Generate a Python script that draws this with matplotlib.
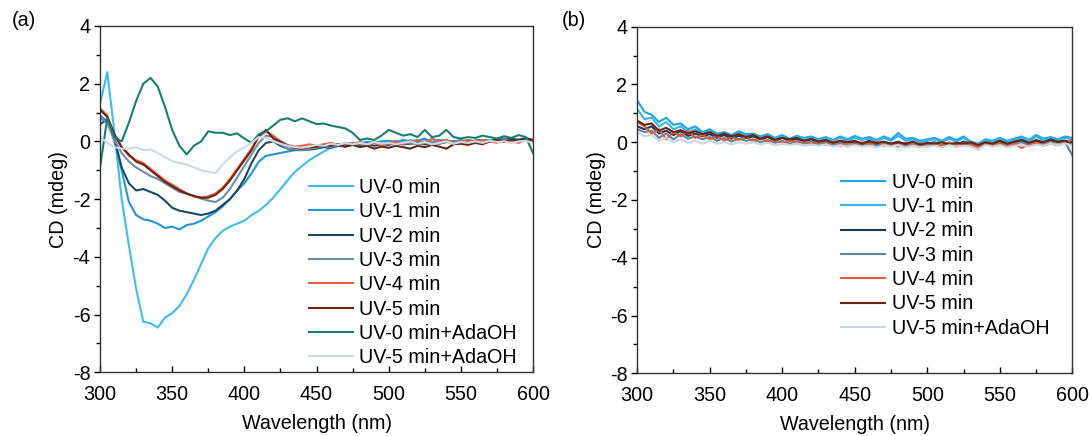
import numpy as np
import matplotlib
matplotlib.use("Agg")
import matplotlib.pyplot as plt
from matplotlib.ticker import MultipleLocator

plt.rcParams['font.family'] = ['Liberation Sans', 'DejaVu Sans']
plt.rcParams['font.size'] = 14.2
plt.rcParams['axes.unicode_minus'] = False

wavelength = np.arange(300, 601, 5)

# ---------------- panel (a) ----------------
a_uv0 = [1.30, 2.40, 0.30, -2.00, -3.60, -5.10, -6.25, -6.30, -6.45, -6.10, -5.95, -5.70, -5.30, -4.80, -4.25, -3.70, -3.35, -3.10, -2.95, -2.85, -2.75, -2.55, -2.40, -2.20, -1.95, -1.65, -1.35, -1.05, -0.85, -0.65, -0.50, -0.35, -0.22, -0.15, -0.10, -0.08, -0.05, -0.02, -0.05, 0.00, -0.02, 0.02, -0.03, 0.05, 0.00, 0.05, -0.02, 0.03, 0.00, 0.02, -0.03, 0.05, 0.00, 0.03, 0.05, 0.00, 0.05, 0.02, 0.08, 0.03, 0.00]
a_uv1 = [0.90, 0.70, 0.00, -1.00, -2.10, -2.55, -2.70, -2.75, -2.85, -3.00, -2.95, -3.05, -2.90, -2.85, -2.75, -2.60, -2.45, -2.25, -2.00, -1.70, -1.45, -1.10, -0.70, -0.50, -0.45, -0.40, -0.35, -0.30, -0.28, -0.25, -0.20, -0.15, -0.12, -0.10, -0.10, -0.05, -0.08, -0.02, -0.05, 0.00, 0.02, -0.02, 0.05, 0.00, 0.03, 0.10, -0.02, 0.05, 0.02, 0.00, 0.05, -0.02, 0.03, 0.05, 0.00, 0.05, 0.10, 0.02, 0.05, 0.10, 0.00]
a_uv2 = [0.60, 0.75, 0.10, -0.90, -1.45, -1.70, -1.65, -1.75, -1.85, -2.05, -2.30, -2.40, -2.45, -2.50, -2.55, -2.50, -2.40, -2.20, -2.00, -1.70, -1.30, -0.75, -0.30, -0.05, 0.00, -0.15, -0.25, -0.30, -0.30, -0.28, -0.25, -0.20, -0.22, -0.15, -0.18, -0.10, -0.12, -0.08, -0.15, -0.10, -0.12, -0.05, -0.10, -0.08, -0.05, -0.10, -0.05, -0.08, -0.02, -0.05, 0.00, -0.05, 0.02, 0.05, 0.00, 0.08, 0.05, 0.10, 0.05, 0.12, 0.05]
a_uv3 = [0.80, 0.65, 0.05, -0.40, -0.70, -0.90, -1.05, -1.20, -1.30, -1.45, -1.60, -1.75, -1.82, -1.88, -1.98, -2.05, -2.10, -1.95, -1.65, -1.25, -0.85, -0.45, -0.05, 0.20, 0.15, -0.10, -0.25, -0.28, -0.30, -0.25, -0.22, -0.15, -0.20, -0.12, -0.15, -0.10, -0.08, -0.12, -0.05, -0.10, -0.08, -0.02, -0.08, -0.05, -0.10, -0.05, -0.02, -0.08, 0.00, -0.05, 0.02, -0.02, 0.00, 0.05, 0.02, 0.00, 0.05, 0.02, 0.00, 0.05, 0.02]
a_uv4 = [1.15, 0.90, 0.20, -0.20, -0.50, -0.65, -0.75, -0.95, -1.15, -1.35, -1.50, -1.65, -1.80, -1.90, -1.95, -1.90, -1.80, -1.60, -1.30, -0.95, -0.60, -0.25, 0.15, 0.35, 0.20, 0.00, -0.12, -0.18, -0.15, -0.10, -0.15, -0.10, -0.05, -0.12, -0.05, -0.08, -0.02, -0.10, -0.05, -0.12, -0.05, 0.00, -0.08, -0.02, 0.05, -0.05, 0.10, 0.00, 0.05, -0.05, 0.00, 0.05, -0.02, 0.05, 0.00, -0.05, 0.05, 0.00, -0.05, 0.05, 0.00]
a_uv5 = [1.10, 0.85, 0.25, -0.20, -0.45, -0.70, -0.80, -1.00, -1.20, -1.40, -1.55, -1.70, -1.80, -1.90, -1.95, -1.95, -1.85, -1.65, -1.35, -1.00, -0.65, -0.30, 0.20, 0.40, 0.10, 0.00, -0.15, -0.22, -0.25, -0.20, -0.18, -0.12, -0.15, -0.10, -0.18, -0.12, -0.20, -0.15, -0.25, -0.18, -0.22, -0.15, -0.20, -0.25, -0.15, -0.20, -0.12, -0.18, -0.25, -0.10, -0.08, -0.12, -0.05, -0.10, 0.00, 0.05, -0.02, 0.05, 0.02, 0.08, 0.05]
a_uv0_ada = [-0.90, 0.80, 0.15, 0.00, 0.65, 1.40, 2.00, 2.20, 1.90, 1.20, 0.40, -0.15, -0.45, -0.15, 0.00, 0.35, 0.30, 0.30, 0.22, 0.28, 0.10, -0.05, 0.25, 0.35, 0.55, 0.75, 0.80, 0.70, 0.80, 0.70, 0.60, 0.62, 0.55, 0.50, 0.45, 0.30, 0.05, 0.10, 0.05, 0.20, 0.40, 0.30, 0.20, 0.25, 0.15, 0.40, 0.15, 0.20, 0.40, 0.15, 0.10, 0.15, 0.12, 0.20, 0.15, 0.10, 0.18, 0.12, 0.22, 0.15, -0.40]
a_uv5_ada = [0.15, -0.05, -0.20, -0.25, -0.25, -0.20, -0.30, -0.28, -0.40, -0.55, -0.68, -0.75, -0.80, -0.90, -1.00, -1.05, -1.10, -0.80, -0.55, -0.35, -0.20, -0.05, 0.15, 0.12, 0.00, -0.08, -0.15, -0.20, -0.22, -0.18, -0.12, -0.15, -0.08, -0.12, -0.05, -0.10, -0.05, -0.10, -0.02, -0.08, -0.05, -0.10, -0.05, 0.00, -0.08, -0.02, -0.10, -0.05, 0.00, -0.08, -0.02, -0.05, 0.00, -0.05, 0.02, -0.02, 0.00, -0.05, 0.00, 0.02, -0.05]

a_labels = ["UV-0 min", "UV-1 min", "UV-2 min", "UV-3 min", "UV-4 min", "UV-5 min",
            "UV-0 min+AdaOH", "UV-5 min+AdaOH"]
a_colors = ["#3DBDF0", "#2196CF", "#1B4A66", "#6A8FAA", "#E8603F", "#6E2412", "#16806F", "#CBDAE4"]

# ---------------- panel (b) ----------------
b_uv0 = [1.45, 1.05, 0.95, 0.70, 0.85, 0.60, 0.65, 0.45, 0.55, 0.35, 0.45, 0.30, 0.35, 0.25, 0.38, 0.28, 0.30, 0.20, 0.28, 0.15, 0.25, 0.12, 0.22, 0.15, 0.20, 0.10, 0.18, 0.08, 0.20, 0.10, 0.22, 0.12, 0.18, 0.08, 0.20, 0.10, 0.32, 0.12, 0.15, 0.05, 0.10, 0.15, 0.05, 0.18, 0.08, 0.20, 0.02, -0.05, 0.10, 0.05, 0.15, 0.05, 0.12, 0.20, 0.08, 0.25, 0.12, 0.18, 0.10, 0.20, 0.15]
b_uv1 = [1.15, 0.80, 0.85, 0.55, 0.70, 0.45, 0.55, 0.35, 0.45, 0.30, 0.38, 0.25, 0.30, 0.20, 0.32, 0.22, 0.25, 0.15, 0.22, 0.10, 0.20, 0.08, 0.18, 0.10, 0.15, 0.05, 0.12, 0.05, 0.15, 0.05, 0.15, 0.08, 0.12, 0.02, 0.15, 0.05, 0.22, 0.05, 0.10, 0.00, 0.05, 0.10, 0.00, 0.12, 0.02, 0.15, -0.02, -0.10, 0.05, 0.00, 0.10, 0.00, 0.05, 0.15, 0.02, 0.20, 0.05, 0.12, 0.05, 0.15, 0.10]
b_uv2 = [0.55, 0.45, 0.55, 0.30, 0.40, 0.25, 0.38, 0.22, 0.30, 0.20, 0.28, 0.15, 0.25, 0.12, 0.22, 0.15, 0.20, 0.10, 0.18, 0.05, 0.15, 0.05, 0.12, 0.02, 0.10, -0.02, 0.05, -0.05, 0.05, -0.05, 0.02, -0.05, 0.05, -0.08, 0.00, -0.05, 0.02, -0.08, 0.00, -0.10, -0.05, 0.00, -0.10, -0.02, -0.08, 0.02, -0.05, -0.15, -0.02, -0.08, 0.00, -0.10, -0.02, 0.05, -0.05, 0.08, -0.02, 0.10, 0.00, 0.05, 0.00]
b_uv3 = [0.45, 0.35, 0.40, 0.15, 0.30, 0.10, 0.28, 0.12, 0.20, 0.10, 0.18, 0.05, 0.15, 0.02, 0.12, 0.05, 0.10, 0.00, 0.08, -0.02, 0.05, -0.05, 0.05, -0.05, 0.02, -0.08, 0.00, -0.10, -0.02, -0.15, -0.05, -0.10, -0.02, -0.12, -0.05, -0.12, -0.02, -0.15, -0.05, -0.12, -0.08, -0.02, -0.12, -0.05, -0.15, -0.05, -0.10, -0.25, -0.05, -0.12, -0.02, -0.10, -0.05, 0.00, -0.10, 0.02, -0.08, 0.05, -0.10, 0.00, -0.45]
b_uv4 = [0.70, 0.55, 0.30, 0.45, 0.10, 0.35, 0.20, 0.40, 0.15, 0.25, 0.10, 0.22, 0.05, 0.18, 0.08, 0.20, 0.02, 0.15, 0.00, 0.10, -0.05, 0.08, -0.05, 0.05, -0.08, 0.02, -0.10, 0.00, -0.12, -0.02, -0.10, 0.00, -0.08, 0.02, -0.12, -0.05, -0.15, -0.02, -0.10, -0.05, -0.15, -0.05, -0.10, 0.00, -0.12, -0.02, -0.08, -0.15, -0.02, -0.10, -0.05, -0.15, -0.05, -0.20, -0.08, -0.02, -0.12, -0.05, -0.10, -0.02, 0.10]
b_uv5 = [0.75, 0.60, 0.65, 0.40, 0.50, 0.35, 0.42, 0.30, 0.38, 0.28, 0.35, 0.22, 0.30, 0.20, 0.28, 0.18, 0.25, 0.12, 0.20, 0.08, 0.15, 0.10, 0.15, 0.05, 0.12, 0.02, 0.08, -0.02, 0.05, 0.00, 0.05, -0.05, 0.03, -0.03, 0.02, -0.05, 0.00, -0.05, 0.02, -0.08, -0.02, -0.05, 0.00, -0.08, -0.02, -0.05, 0.00, -0.10, 0.00, -0.05, 0.05, -0.05, 0.02, 0.08, -0.02, 0.05, 0.00, 0.08, 0.02, 0.05, -0.10]
b_uv5_ada = [0.35, 0.20, 0.25, 0.05, 0.15, 0.00, 0.10, -0.02, 0.05, -0.05, 0.05, -0.05, 0.00, -0.08, 0.00, -0.05, 0.00, -0.08, -0.02, -0.10, -0.05, -0.10, -0.05, -0.12, -0.08, -0.12, -0.08, -0.15, -0.10, -0.15, -0.10, -0.15, -0.12, -0.18, -0.10, -0.15, -0.10, -0.18, -0.12, -0.18, -0.15, -0.12, -0.18, -0.10, -0.15, -0.12, -0.15, -0.25, -0.10, -0.15, -0.10, -0.18, -0.12, -0.10, -0.15, -0.08, -0.12, -0.05, -0.10, -0.05, -0.10]

b_labels = ["UV-0 min", "UV-1 min", "UV-2 min", "UV-3 min", "UV-4 min", "UV-5 min", "UV-5 min+AdaOH"]
b_colors = ["#1BA8E6", "#35B4E6", "#163E5A", "#5E87A3", "#E55A3C", "#6B2410", "#C9D7E2"]

FS = 14.2

fig = plt.figure(figsize=(10.92, 4.36), dpi=100)
ax_a = fig.add_axes([0.0916, 0.1461, 0.3965, 0.7943])
ax_b = fig.add_axes([0.5835, 0.1438, 0.3985, 0.7950])


def style(ax):
    ax.set_xlim(300, 600)
    ax.set_ylim(-8, 4)
    ax.xaxis.set_major_locator(MultipleLocator(50))
    ax.xaxis.set_minor_locator(MultipleLocator(25))
    ax.yaxis.set_major_locator(MultipleLocator(2))
    ax.yaxis.set_minor_locator(MultipleLocator(1))
    ax.tick_params(axis='x', which='major', direction='in', length=4, width=1, pad=9, labelsize=FS)
    ax.tick_params(axis='x', which='minor', direction='in', length=3, width=1)
    ax.tick_params(axis='y', which='major', direction='out', length=4, width=1, pad=3, labelsize=FS)
    ax.tick_params(axis='y', which='minor', direction='out', length=3, width=1)
    for s in ax.spines.values():
        s.set_linewidth(1.0)
        s.set_color('#333333')
    ax.set_xlabel("Wavelength (nm)", fontsize=FS, labelpad=7)
    ax.set_ylabel("CD (mdeg)", fontsize=FS, labelpad=3)


a_series = [a_uv0, a_uv1, a_uv2, a_uv3, a_uv4, a_uv5, a_uv0_ada, a_uv5_ada]
for vals, lab, col in zip(a_series, a_labels, a_colors):
    ax_a.plot(wavelength, vals, color=col, lw=1.5, label=lab)
style(ax_a)
ax_a.legend(loc='upper left', bbox_to_anchor=(0.483, 0.561), frameon=False,
            borderpad=0, borderaxespad=0, handlelength=2.2, handletextpad=0.35,
            labelspacing=0.27, fontsize=FS)

b_series = [b_uv0, b_uv1, b_uv2, b_uv3, b_uv4, b_uv5, b_uv5_ada]
for vals, lab, col in zip(b_series, b_labels, b_colors):
    ax_b.plot(wavelength, vals, color=col, lw=1.5, label=lab)
style(ax_b)
ax_b.legend(loc='upper left', bbox_to_anchor=(0.469, 0.5785), frameon=False,
            borderpad=0, borderaxespad=0, handlelength=2.2, handletextpad=0.35,
            labelspacing=0.27, fontsize=FS)

fig.text(12 / 1092, 1 - 20 / 436, "(a)", fontsize=FS, va='center', ha='left')
fig.text(562 / 1092, 1 - 20 / 436, "(b)", fontsize=FS, va='center', ha='left')

fig.savefig("out.png", dpi=100)
